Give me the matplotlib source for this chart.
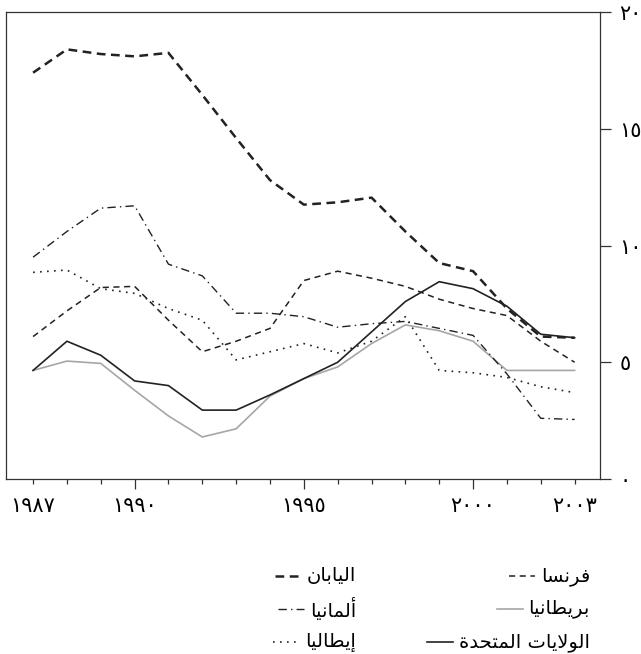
import matplotlib
matplotlib.use('Agg')
import matplotlib.pyplot as plt
from matplotlib.lines import Line2D

years = list(range(1987, 2004))
france = [6.1, 7.2, 8.2, 8.25, 6.8, 5.45, 5.9, 6.45, 8.5, 8.9, 8.6, 8.25, 7.7, 7.3, 7.0, 5.9, 5.0]
japan = [17.4, 18.4, 18.2, 18.1, 18.25, 16.45, 14.6, 12.8, 11.75, 11.85, 12.05, 10.6, 9.25, 8.9, 7.3, 6.1, 6.05]
uk = [4.65, 5.05, 4.95, 3.8, 2.7, 1.8, 2.15, 3.55, 4.3, 4.8, 5.8, 6.6, 6.35, 5.9, 4.65, 4.65, 4.65]
germany = [9.5, 10.6, 11.6, 11.7, 9.2, 8.7, 7.1, 7.1, 6.95, 6.5, 6.65, 6.75, 6.45, 6.15, 4.5, 2.6, 2.55]
usa = [4.65, 5.9, 5.3, 4.2, 4.0, 2.95, 2.95, 3.6, 4.3, 5.0, 6.3, 7.6, 8.45, 8.15, 7.4, 6.2, 6.05]
italy = [8.85, 8.95, 8.15, 7.95, 7.3, 6.8, 5.1, 5.45, 5.8, 5.4, 5.9, 6.95, 4.65, 4.55, 4.35, 3.95, 3.7]

names = ['فرنسا', 'بريطانيا', 'الولايات المتحدة', 'اليابان', 'ألمانيا', 'إيطاليا']
xtick_years = [1987, 1990, 1995, 2000, 2003]
ytick_vals = [0, 5, 10, 15, 20]

# matplotlib has no arabic shaping, so pick the presentation forms by hand
FORMS = {
    'ا': (0xFE8D, 0xFE8E, None, None),
    'أ': (0xFE83, 0xFE84, None, None),
    'إ': (0xFE87, 0xFE88, None, None),
    'ب': (0xFE8F, 0xFE90, 0xFE91, 0xFE92),
    'ة': (0xFE93, 0xFE94, None, None),
    'ت': (0xFE95, 0xFE96, 0xFE97, 0xFE98),
    'ح': (0xFEA1, 0xFEA2, 0xFEA3, 0xFEA4),
    'د': (0xFEA9, 0xFEAA, None, None),
    'ر': (0xFEAD, 0xFEAE, None, None),
    'س': (0xFEB1, 0xFEB2, 0xFEB3, 0xFEB4),
    'ط': (0xFEC1, 0xFEC2, 0xFEC3, 0xFEC4),
    'ف': (0xFED1, 0xFED2, 0xFED3, 0xFED4),
    'ل': (0xFEDD, 0xFEDE, 0xFEDF, 0xFEE0),
    'م': (0xFEE1, 0xFEE2, 0xFEE3, 0xFEE4),
    'ن': (0xFEE5, 0xFEE6, 0xFEE7, 0xFEE8),
    'و': (0xFEED, 0xFEEE, None, None),
    'ي': (0xFEF1, 0xFEF2, 0xFEF3, 0xFEF4),
}
LAM_ALEF = {'ا': (0xFEFB, 0xFEFC), 'أ': (0xFEF7, 0xFEF8), 'إ': (0xFEF9, 0xFEFA)}


def shape(s):
    toks = []
    i = 0
    while i < len(s):
        if s[i] == 'ل' and i + 1 < len(s) and s[i + 1] in LAM_ALEF:
            toks.append(('LA', s[i + 1]))
            i += 2
        else:
            toks.append((s[i], None))
            i += 1
    out = []
    for k, (c, a) in enumerate(toks):
        prev = toks[k - 1][0] if k > 0 else None
        nxt = toks[k + 1][0] if k + 1 < len(toks) else None
        jp = prev in FORMS and FORMS[prev][2] is not None
        if c == 'LA':
            iso, fin = LAM_ALEF[a]
            out.append(chr(fin if jp else iso))
            continue
        if c not in FORMS:
            out.append(c)
            continue
        iso, fin, ini, med = FORMS[c]
        jn = ini is not None and (nxt in FORMS or nxt == 'LA')
        if jp and jn:
            g = med
        elif jp:
            g = fin
        elif jn:
            g = ini
        else:
            g = iso
        out.append(chr(g))
    return ''.join(reversed(out))


def ar_digits(n):
    return str(n).translate(str.maketrans('0123456789', '٠١٢٣٤٥٦٧٨٩'))


styles = [
    dict(color='#222222', lw=1.1, ls=(0, (4, 3))),
    dict(color='#a6a6a6', lw=1.2, ls='-'),
    dict(color='#222222', lw=1.2, ls='-'),
    dict(color='#222222', lw=1.8, ls=(0, (3.5, 2.2))),
    dict(color='#222222', lw=1.0, ls=(0, (6, 3, 1, 3))),
    dict(color='#222222', lw=1.2, ls=(0, (1, 3.2))),
]
series = [france, uk, usa, japan, germany, italy]

W, H = 641, 654
fig = plt.figure(figsize=(W / 100, H / 100), dpi=100)
ax = fig.add_axes([6 / W, 1 - 479 / H, 594 / W, 467 / H])

for vals, st in zip(series, styles):
    ax.plot(years, vals, **st)

ax.set_xlim(1986.2, 2003.75)
ax.set_ylim(0, 20)
for sp in ax.spines.values():
    sp.set_linewidth(0.9)
    sp.set_color('#333333')

ax.yaxis.tick_right()
ax.set_yticks(ytick_vals, [ar_digits(v) for v in ytick_vals])
ax.tick_params(axis='y', direction='out', length=8, width=0.9, pad=6,
               labelsize=15, color='#333333')

ax.set_xticks(xtick_years, [ar_digits(y) for y in xtick_years])
ax.set_xticks(years, minor=True)
ax.tick_params(axis='x', which='major', direction='out', length=7, width=0.9,
               pad=5, labelsize=15, color='#333333')
ax.tick_params(axis='x', which='minor', direction='out', length=3.5, width=0.9,
               color='#333333')
mt = ax.xaxis.get_major_ticks()
for t in (mt[0], mt[-1]):
    t.tick1line.set_markersize(3.5)

# legend: two columns, text right aligned, key just left of the text
fig.canvas.draw()
renderer = fig.canvas.get_renderer()
col_x = [590, 356]
row_y = [576, 609, 642]
for i, (name, st) in enumerate(zip(names, styles)):
    cx = col_x[i // 3]
    cy = 1 - row_y[i % 3] / H
    t = fig.text(cx / W, cy, shape(name), ha='right', va='center', fontsize=14)
    bb = t.get_window_extent(renderer)
    x1 = bb.x0 - 6
    x0 = x1 - 26
    fig.add_artist(Line2D([x0 / W, x1 / W], [cy, cy], transform=fig.transFigure, **st))

fig.savefig('out.png', dpi=100)
